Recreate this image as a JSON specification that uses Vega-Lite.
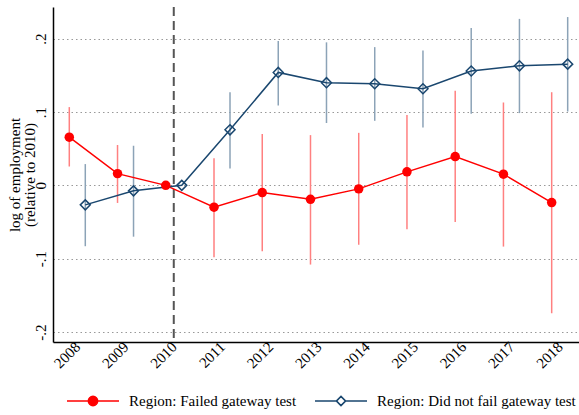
{
  "$schema": "https://vega.github.io/schema/vega-lite/v6.json",
  "width": 526,
  "height": 335,
  "autosize": {"type": "none"},
  "padding": {"left": 53, "top": 7, "right": 0, "bottom": 73},
  "background": "white",
  "config": {
    "font": "Liberation Serif",
    "view": {"stroke": null},
    "axis": {
      "labelFont": "Liberation Serif",
      "titleFont": "Liberation Serif",
      "labelFontSize": 15,
      "titleFontSize": 15,
      "labelColor": "#000000",
      "titleColor": "#000000",
      "titleFontWeight": "normal",
      "domainColor": "#000000",
      "domainWidth": 1.5,
      "ticks": false
    },
    "legend": {
      "labelFont": "Liberation Serif",
      "labelFontSize": 15,
      "labelColor": "#000000",
      "labelLimit": 400
    }
  },
  "data": {
    "values": [
      {"year": 2008, "group": "Region: Failed gateway test", "est": 0.0657, "lo": 0.0257, "hi": 0.1067},
      {"year": 2009, "group": "Region: Failed gateway test", "est": 0.016, "lo": -0.024, "hi": 0.055},
      {"year": 2010, "group": "Region: Failed gateway test", "est": 0.0, "lo": 0.0, "hi": 0.0},
      {"year": 2011, "group": "Region: Failed gateway test", "est": -0.0298, "lo": -0.098, "hi": 0.037},
      {"year": 2012, "group": "Region: Failed gateway test", "est": -0.0098, "lo": -0.09, "hi": 0.07},
      {"year": 2013, "group": "Region: Failed gateway test", "est": -0.019, "lo": -0.108, "hi": 0.0685},
      {"year": 2014, "group": "Region: Failed gateway test", "est": -0.0048, "lo": -0.081, "hi": 0.0716},
      {"year": 2015, "group": "Region: Failed gateway test", "est": 0.0184, "lo": -0.06, "hi": 0.096},
      {"year": 2016, "group": "Region: Failed gateway test", "est": 0.0393, "lo": -0.05, "hi": 0.129},
      {"year": 2017, "group": "Region: Failed gateway test", "est": 0.0153, "lo": -0.0835, "hi": 0.113},
      {"year": 2018, "group": "Region: Failed gateway test", "est": -0.0235, "lo": -0.1744, "hi": 0.127},
      {"year": 2008, "group": "Region: Did not fail gateway test", "est": -0.0266, "lo": -0.083, "hi": 0.029},
      {"year": 2009, "group": "Region: Did not fail gateway test", "est": -0.0075, "lo": -0.07, "hi": 0.054},
      {"year": 2010, "group": "Region: Did not fail gateway test", "est": 0.0, "lo": 0.0, "hi": 0.0},
      {"year": 2011, "group": "Region: Did not fail gateway test", "est": 0.0757, "lo": 0.023, "hi": 0.127},
      {"year": 2012, "group": "Region: Did not fail gateway test", "est": 0.154, "lo": 0.109, "hi": 0.197},
      {"year": 2013, "group": "Region: Did not fail gateway test", "est": 0.14, "lo": 0.085, "hi": 0.195},
      {"year": 2014, "group": "Region: Did not fail gateway test", "est": 0.1385, "lo": 0.088, "hi": 0.1885},
      {"year": 2015, "group": "Region: Did not fail gateway test", "est": 0.1317, "lo": 0.079, "hi": 0.184},
      {"year": 2016, "group": "Region: Did not fail gateway test", "est": 0.156, "lo": 0.0975, "hi": 0.2145},
      {"year": 2017, "group": "Region: Did not fail gateway test", "est": 0.163, "lo": 0.0985, "hi": 0.227},
      {"year": 2018, "group": "Region: Did not fail gateway test", "est": 0.1653, "lo": 0.1007, "hi": 0.2295}
    ]
  },
  "encoding": {
    "x": {
      "field": "year",
      "type": "ordinal",
      "scale": {"type": "point", "padding": 0.452, "align": 0.557},
      "axis": {
        "title": null,
        "labelAngle": -45,
        "labelAlign": "right",
        "labelBaseline": "middle",
        "labelPadding": 2,
        "grid": false
      }
    }
  },
  "layer": [
    {
      "transform": [{"filter": "datum.year == 2010 && datum.group == 'Region: Failed gateway test'"}],
      "mark": {"type": "rule", "stroke": "#555555", "strokeWidth": 2, "strokeDash": [9, 5]},
      "encoding": {}
    },
    {
      "mark": {"type": "rule", "strokeWidth": 1.5},
      "encoding": {
        "xOffset": {"field": "group", "type": "nominal", "scale": {"type": "point", "domain": ["Region: Failed gateway test", "Region: Did not fail gateway test"], "range": [-8, 8], "padding": 0}},
        "y": {
          "field": "lo",
          "type": "quantitative",
          "scale": {"domain": [-0.2136, 0.2432], "nice": false, "zero": false},
          "axis": {
            "title": ["log of employment", "(relative to 2010)"],
            "titlePadding": -4,
            "titleLineHeight": 15,
            "values": [-0.2, -0.1, 0, 0.1, 0.2],
            "labelExpr": "datum.value == 0 ? '0' : (datum.value < 0 ? '-' : '') + replace(format(abs(datum.value), '.1f'), '0.', '.')",
            "labelAngle": -90,
            "labelAlign": "center",
            "labelBaseline": "bottom",
            "labelPadding": 5,
            "grid": true,
            "gridColor": "#999999",
            "gridDash": [1.5, 3],
            "gridWidth": 1
          }
        },
        "y2": {"field": "hi"},
        "stroke": {
          "condition": {"test": "datum.group === 'Region: Failed gateway test'", "value": "#ff8080"},
          "value": "#8ca3b7"
        }
      }
    },
    {
      "mark": {"type": "line", "strokeWidth": 1.5},
      "encoding": {
        "xOffset": {"field": "group", "type": "nominal", "scale": {"type": "point", "domain": ["Region: Failed gateway test", "Region: Did not fail gateway test"], "range": [-8, 8], "padding": 0}},
        "y": {"field": "est", "type": "quantitative"},
        "color": {
          "field": "group",
          "type": "nominal",
          "scale": {"domain": ["Region: Failed gateway test", "Region: Did not fail gateway test"], "range": ["#ff0000", "#1a476f"]},
          "legend": {
            "title": null,
            "orient": "none",
            "legendX": 13,
            "legendY": 367,
            "direction": "horizontal",
            "symbolSize": 2704,
            "symbolStrokeWidth": 1.5,
            "labelOffset": 9,
            "columnPadding": 15,
            "padding": 0,
            "encode": {
              "symbols": {
                "update": {
                  "shape": {"signal": "datum.value === 'Region: Failed gateway test' ? 'M-1,0H1M0.18,0A0.18,0.18,0,1,1,-0.18,0A0.18,0.18,0,1,1,0.18,0Z' : 'M-1,0H-0.18M0.18,0H1M-0.18,0L0,-0.18L0.18,0L0,0.18ZM-0.17,0L0,0.17L0.17,0L0,-0.17Z'"},
                  "fill": {"signal": "datum.value === 'Region: Failed gateway test' ? '#ff0000' : '#ffffff'"},
                  "opacity": {"value": 1},
                  "strokeWidth": {"value": 1.5}
                }
              }
            }
          }
        }
      }
    },
    {
      "transform": [{"filter": "datum.group == 'Region: Failed gateway test'"}],
      "mark": {"type": "point", "shape": "circle", "filled": true, "size": 90, "opacity": 1},
      "encoding": {
        "xOffset": {"field": "group", "type": "nominal", "scale": {"type": "point", "domain": ["Region: Failed gateway test", "Region: Did not fail gateway test"], "range": [-8, 8], "padding": 0}},
        "y": {"field": "est", "type": "quantitative"},
        "color": {"field": "group", "type": "nominal"}
      }
    },
    {
      "transform": [{"filter": "datum.group == 'Region: Did not fail gateway test'"}],
      "mark": {"type": "point", "shape": "diamond", "filled": false, "size": 100, "strokeWidth": 1.5, "opacity": 1},
      "encoding": {
        "xOffset": {"field": "group", "type": "nominal", "scale": {"type": "point", "domain": ["Region: Failed gateway test", "Region: Did not fail gateway test"], "range": [-8, 8], "padding": 0}},
        "y": {"field": "est", "type": "quantitative"},
        "color": {"field": "group", "type": "nominal"}
      }
    }
  ]
}
